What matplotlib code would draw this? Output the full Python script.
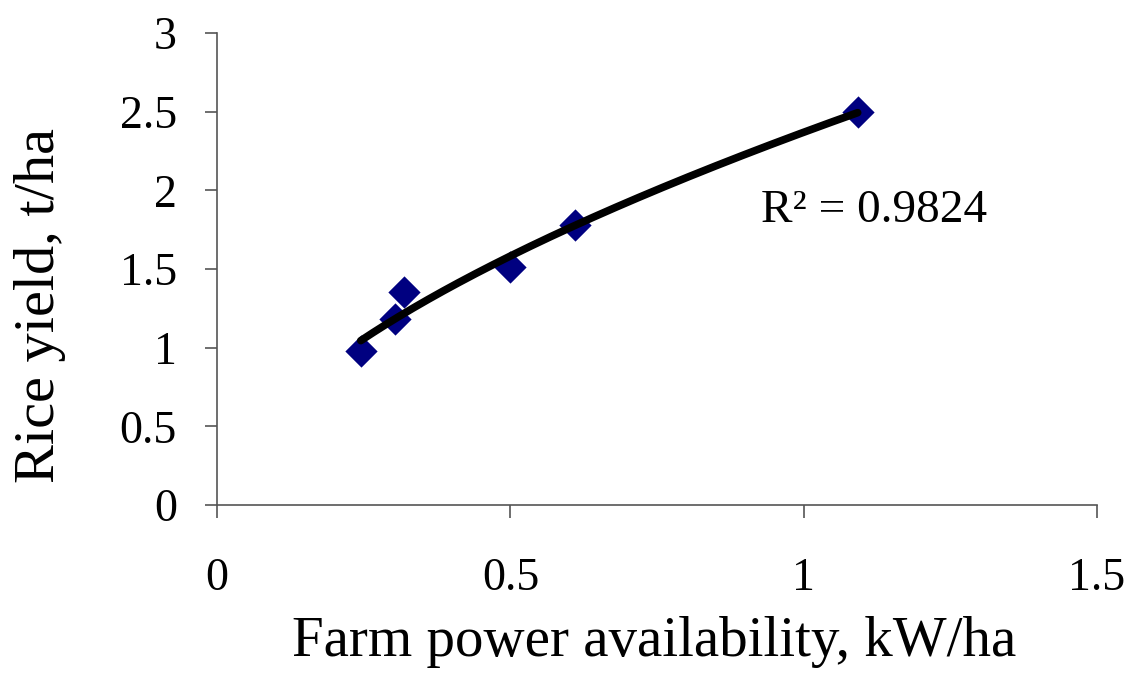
import numpy as np
import matplotlib.pyplot as plt

power = [0.245, 0.303, 0.318, 0.50, 0.61, 1.092]
yield_t = [0.98, 1.18, 1.355, 1.51, 1.78, 2.50]
r2_text = "R\u00b2 = 0.9824"
x_ticks = [0, 0.5, 1, 1.5]
x_ticklabels = ['0', '0.5', '1', '1.5']
y_ticks = [0, 0.5, 1, 1.5, 2, 2.5, 3]
y_ticklabels = ['0', '0.5', '1', '1.5', '2', '2.5', '3']


def power_fit(x, y):
    # excel-style power trendline: fit log y against log x
    b, ln_a = np.polyfit(np.log(x), np.log(y), 1)
    return np.exp(ln_a), b


plt.rcParams['font.family'] = ['Liberation Serif', 'DejaVu Serif']
fig = plt.figure(figsize=(11.34, 6.73), dpi=100)
ax = fig.add_axes([0.1914, 0.2496, 0.776, 0.7014])

a, b = power_fit(power, yield_t)
xs = np.linspace(min(power), max(power), 200)
ax.plot(xs, a * xs ** b, color='black', lw=5.5, solid_capstyle='round', zorder=2)
ax.scatter(power, yield_t, marker='D', s=270, color='#000080', zorder=1, linewidths=0)

ax.text(0.928, 1.80, r2_text, fontsize=34, va='baseline')

ax.set_xlim(0, 1.5)
ax.set_ylim(0, 3)
ax.set_xticks(x_ticks)
ax.set_xticklabels(x_ticklabels)
ax.set_yticks(y_ticks)
ax.set_yticklabels(y_ticklabels)
ax.spines['top'].set_visible(False)
ax.spines['right'].set_visible(False)
for s in ['left', 'bottom']:
    ax.spines[s].set_color('#555555')
    ax.spines[s].set_linewidth(1.2)
ax.tick_params(direction='out', length=9, width=1.2, color='#555555', labelsize=33)
ax.tick_params(axis='x', pad=29)
ax.tick_params(axis='y', pad=20)

ax.set_xlabel("Farm power availability, kW/ha", fontsize=41)
ax.set_ylabel("Rice yield, t/ha", fontsize=42)
ax.xaxis.set_label_coords(0.4966, -0.235)
ax.yaxis.set_label_coords(-0.1716, 0.4237)

fig.savefig('out.png')
